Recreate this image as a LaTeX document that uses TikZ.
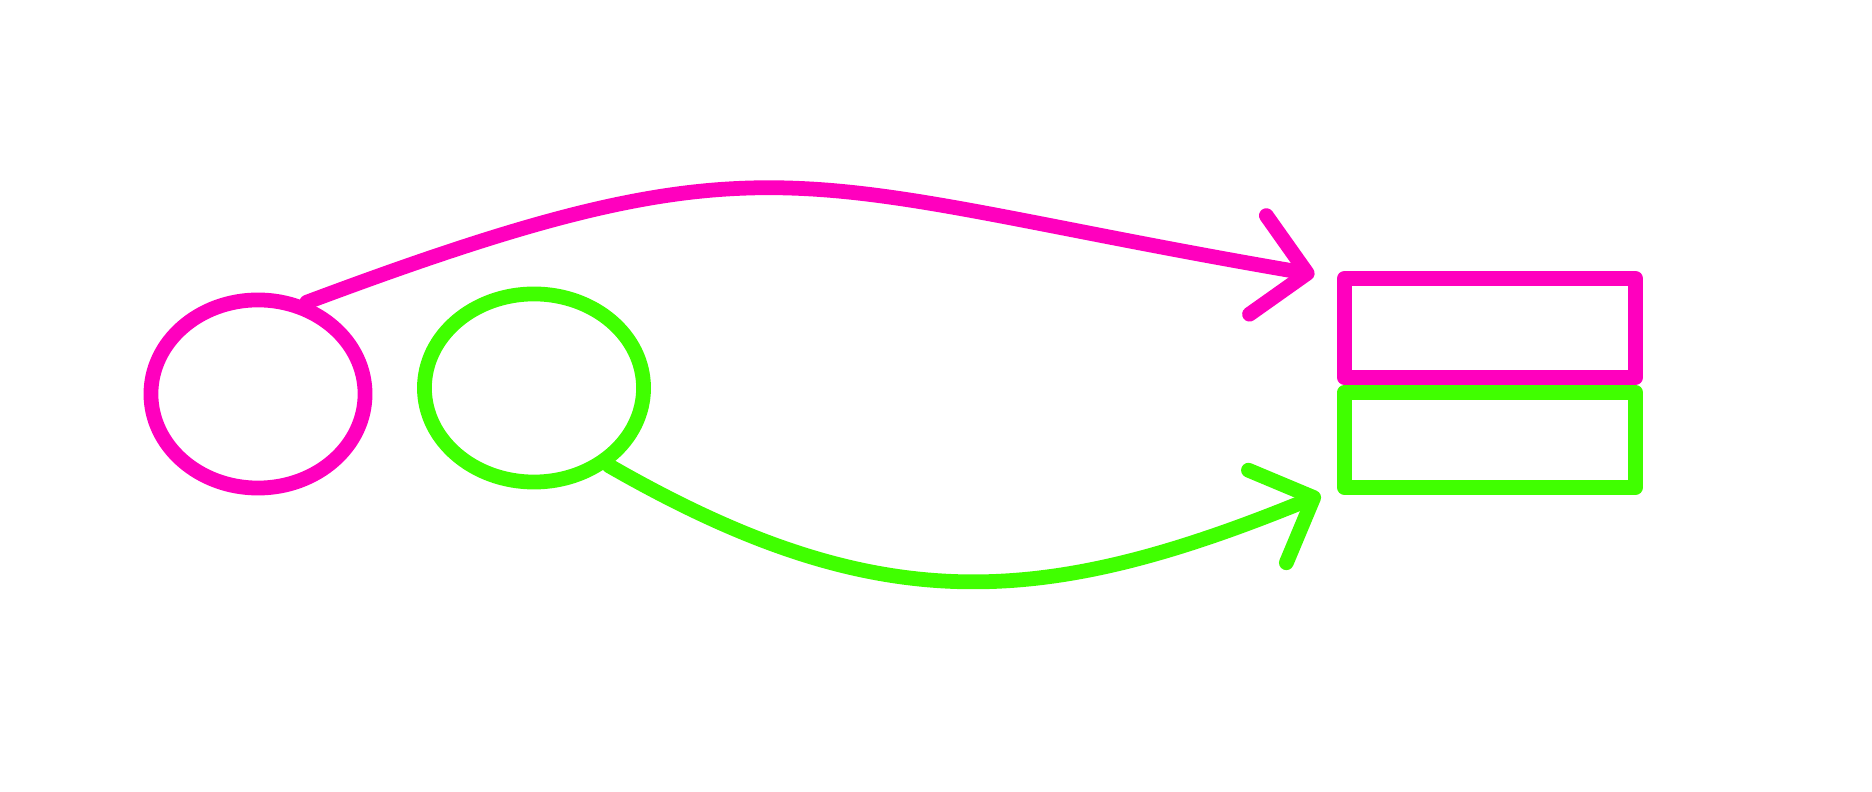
\documentclass[tikz,border=0pt]{standalone}
\usetikzlibrary{arrows.meta,positioning,shapes.geometric}
\definecolor{pinkline}{RGB}{255,0,190}
\definecolor{limeline}{RGB}{64,255,0}
\begin{document}
\begin{tikzpicture}[x=0.01cm, y=-0.01cm,
  blob/.style={ellipse, draw, line width=4.2pt, inner sep=0pt},
  slot/.style={rectangle, draw, line width=4.2pt, line join=round,
               minimum width=2.91cm, inner sep=0pt},
  arr/.style={line width=4.2pt, line cap=round,
              -{Straight Barb[length=5mm, width=10mm, round]}}]
\useasboundingbox (0,0) rectangle (1872,792);
\node[blob, draw=pinkline, minimum width=2.14cm, minimum height=1.88cm] (pinkset) at (258,394) {};
\node[blob, draw=limeline, minimum width=2.19cm, minimum height=1.88cm] (limeset) at (534,388) {};
\node[slot, draw=pinkline, minimum height=0.99cm] (pinkslot) at (1490,328) {};
\node[slot, draw=limeline, minimum height=0.95cm, below=0pt of pinkslot] (limeslot) {};
\draw[arr, pinkline] (pinkset.62) .. controls (780,125) and (790,185) ..
  ([xshift=-2.25mm, yshift=-0.35mm]pinkslot.north west);
\draw[arr, limeline] (limeset.-46) .. controls (876,619) and (1039,610) ..
  ([xshift=-1.65mm]limeslot.south west);
\end{tikzpicture}
\end{document}
